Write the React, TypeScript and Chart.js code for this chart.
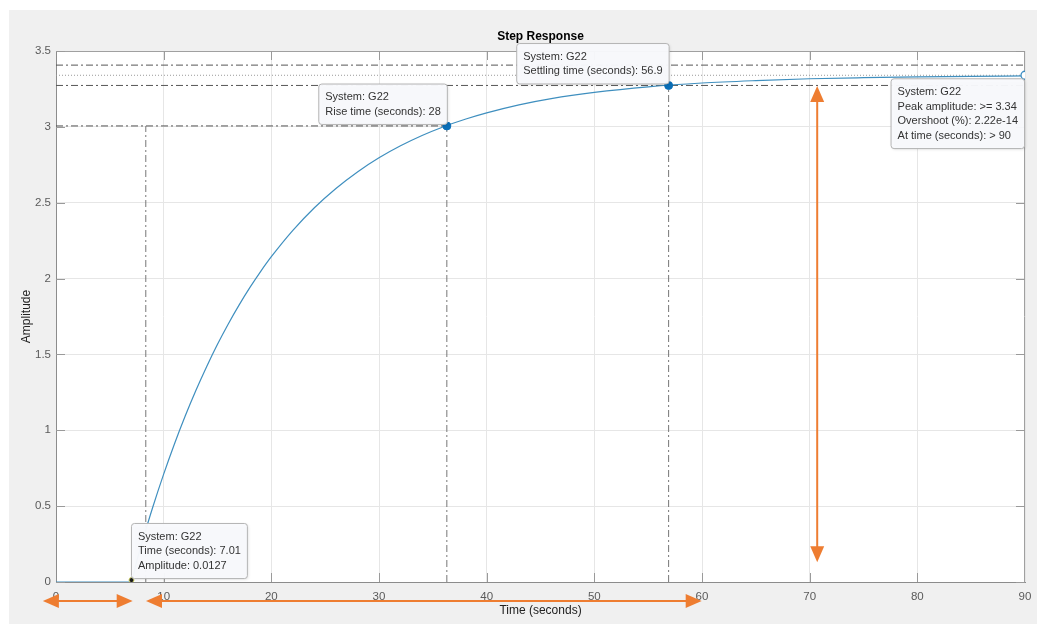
import React, { useEffect, useRef } from 'react';
import { Chart, registerables } from 'chart.js';

Chart.register(...registerables);

const FONT = '"Liberation Sans", Arial, Helvetica, sans-serif';

// Step response of system G22
const timeValues = [
  0, 6.96, 7.5, 8, 9, 10, 11, 12, 13, 14, 15, 16, 17, 18, 19, 20, 22, 24, 26, 28, 30,
  32, 34, 36, 38, 40, 43, 46, 50, 55, 60, 65, 70, 75, 80, 85, 90,
];
const amplitudeValues = [
  0, 0, 0.139, 0.263, 0.496, 0.711, 0.91, 1.094, 1.264, 1.421, 1.567, 1.701, 1.825, 1.94,
  2.046, 2.144, 2.318, 2.467, 2.594, 2.703, 2.796, 2.875, 2.943, 3.001, 3.05, 3.092, 3.145,
  3.186, 3.227, 3.264, 3.289, 3.305, 3.317, 3.324, 3.329, 3.333, 3.336,
];

// Characteristic points (data tips)
const markerTimes = [7.01, 36.3, 56.9, 90];
const markerAmps = [0.0127, 3.006, 3.273, 3.34];
const tipTexts = [
  ['System: G22', 'Time (seconds): 7.01', 'Amplitude: 0.0127'],
  ['System: G22', 'Rise time (seconds): 28'],
  ['System: G22', 'Settling time (seconds): 56.9'],
  ['System: G22', 'Peak amplitude: >= 3.34', 'Overshoot (%): 2.22e-14', 'At time (seconds): > 90'],
];
const tipAnchors = ['bottomLeft', 'bottomRight', 'bottomRight', 'topRight'];

// Reference lines
const settleUpper = 3.407;
const steadyState = 3.34;
const settleLower = 3.273;
const riseUpper = 3.006;
const riseStartTime = 8.34;
const riseEndTime = 36.3;
const settleTime = 56.9;
const xMin = 0;
const xMax = 90;

// Orange annotation arrows
const hArrowFrom = [-1.22, 8.36];
const hArrowTo = [7.12, 59.97];
const vArrowTime = 70.7;
const vArrowFrom = 3.27;
const vArrowTo = 0.13;

const ORANGE = '#EE7D31';

function drawHead(ctx: CanvasRenderingContext2D, tx: number, ty: number, dx: number, dy: number) {
  const L = 16;
  const W = 7;
  const bx = tx - dx * L;
  const by = ty - dy * L;
  const px = -dy;
  const py = dx;
  ctx.beginPath();
  ctx.moveTo(tx, ty);
  ctx.lineTo(bx + px * W, by + py * W);
  ctx.lineTo(bx - px * W, by - py * W);
  ctx.closePath();
  ctx.fill();
}

function drawDoubleArrow(ctx: CanvasRenderingContext2D, x1: number, y1: number, x2: number, y2: number) {
  const len = Math.hypot(x2 - x1, y2 - y1);
  const dx = (x2 - x1) / len;
  const dy = (y2 - y1) / len;
  ctx.beginPath();
  ctx.moveTo(x1 + dx * 14, y1 + dy * 14);
  ctx.lineTo(x2 - dx * 14, y2 - dy * 14);
  ctx.stroke();
  drawHead(ctx, x2, y2, dx, dy);
  drawHead(ctx, x1, y1, -dx, -dy);
}

const bgPlugin = {
  id: 'figureBg',
  beforeDraw(chart: any) {
    const { ctx, width, height, chartArea: a } = chart;
    ctx.save();
    ctx.fillStyle = '#ffffff';
    ctx.fillRect(0, 0, width, height);
    ctx.fillStyle = '#f0f0f0';
    ctx.fillRect(9, 10, width - 9, height - 10);
    ctx.fillStyle = '#ffffff';
    ctx.fillRect(a.left, a.top, a.right - a.left, a.bottom - a.top);
    ctx.restore();
  },
};

const framePlugin = {
  id: 'frame',
  beforeDatasetsDraw(chart: any) {
    const { ctx, chartArea: a, scales } = chart;
    ctx.save();
    ctx.strokeStyle = '#a0a0a0';
    ctx.lineWidth = 1;
    ctx.beginPath();
    ctx.moveTo(a.left, a.top + 0.5);
    ctx.lineTo(a.right, a.top + 0.5);
    ctx.moveTo(a.right - 0.5, a.top);
    ctx.lineTo(a.right - 0.5, a.bottom);
    ctx.stroke();
    ctx.strokeStyle = '#9a9a9a';
    ctx.beginPath();
    for (const t of scales.x.ticks) {
      const px = Math.round(scales.x.getPixelForValue(t.value)) + 0.5;
      if (t.value === xMin || t.value === xMax) continue;
      ctx.moveTo(px, a.bottom);
      ctx.lineTo(px, a.bottom - 9);
      ctx.moveTo(px, a.top);
      ctx.lineTo(px, a.top + 9);
    }
    for (const t of scales.y.ticks) {
      const py = Math.round(scales.y.getPixelForValue(t.value)) + 0.5;
      ctx.moveTo(a.left, py);
      ctx.lineTo(a.left + 9, py);
      ctx.moveTo(a.right, py);
      ctx.lineTo(a.right - 9, py);
    }
    ctx.stroke();
    ctx.restore();
  },
};

const tipsPlugin = {
  id: 'dataTips',
  afterDatasetsDraw(chart: any) {
    const { ctx, scales } = chart;
    ctx.save();
    ctx.font = `11px ${FONT}`;
    const lineH = 14.7;
    markerTimes.forEach((t, i) => {
      const mx = scales.x.getPixelForValue(t);
      const my = scales.y.getPixelForValue(markerAmps[i]);
      const lines = tipTexts[i];
      const w = Math.max(...lines.map((s) => ctx.measureText(s).width)) + 13;
      const h = lines.length * lineH + 11;
      let left = mx;
      let top = my - 2 - h;
      const anchor = tipAnchors[i];
      if (anchor === 'bottomLeft') {
        left = mx - 0.5;
        top = my - 2 - h;
      } else if (anchor === 'bottomRight') {
        left = mx - w;
        top = my - 2 - h;
      } else if (anchor === 'topRight') {
        left = mx - 1 - w;
        top = my + 3;
      }
      ctx.shadowColor = 'rgba(0,0,0,0.12)';
      ctx.shadowBlur = 3;
      ctx.shadowOffsetX = 1;
      ctx.shadowOffsetY = 1;
      ctx.fillStyle = 'rgba(248,249,252,0.97)';
      ctx.beginPath();
      (ctx as any).roundRect(left + 0.5, top + 0.5, w, h, 3);
      ctx.fill();
      ctx.shadowColor = 'transparent';
      ctx.strokeStyle = '#b4b4b4';
      ctx.lineWidth = 1;
      ctx.stroke();
      ctx.fillStyle = '#333333';
      ctx.textBaseline = 'middle';
      ctx.textAlign = 'left';
      lines.forEach((s, k) => {
        ctx.fillText(s, left + 7, top + 13.5 + k * lineH);
      });
    });
    ctx.restore();
  },
};

const arrowsPlugin = {
  id: 'arrows',
  afterDraw(chart: any) {
    const { ctx, scales, chartArea: a } = chart;
    ctx.save();
    ctx.strokeStyle = ORANGE;
    ctx.fillStyle = ORANGE;
    ctx.lineWidth = 2;
    const yRow = a.bottom + 19;
    hArrowFrom.forEach((x1, i) => {
      drawDoubleArrow(ctx, scales.x.getPixelForValue(x1), yRow, scales.x.getPixelForValue(hArrowTo[i]), yRow);
    });
    const vx = scales.x.getPixelForValue(vArrowTime);
    drawDoubleArrow(ctx, vx, scales.y.getPixelForValue(vArrowFrom), vx, scales.y.getPixelForValue(vArrowTo));
    ctx.restore();
  },
};

const DASH_DOT = [7, 3, 2, 3];

function refLine(points: { x: number; y: number }[], color: string, dash: number[]) {
  return {
    type: 'line' as const,
    data: points,
    borderColor: color,
    borderWidth: 1,
    borderDash: dash,
    pointRadius: 0,
    fill: false,
    order: 3,
  };
}

export default function App() {
  const canvasRef = useRef<HTMLCanvasElement | null>(null);

  useEffect(() => {
    const canvas = canvasRef.current;
    if (!canvas) return;
    const curve = timeValues.map((t, i) => ({ x: t, y: amplitudeValues[i] }));
    const markers = markerTimes.map((t, i) => ({ x: t, y: markerAmps[i] }));

    const chart = new Chart(canvas, {
      type: 'line',
      data: {
        datasets: [
          {
            data: markers,
            showLine: false,
            pointRadius: [2.5, 4, 4, 4],
            pointBackgroundColor: ['#1a1a1a', '#0a6fb8', '#0a6fb8', '#ffffff'],
            pointBorderColor: ['#d4d870', '#0a6fb8', '#0a6fb8', '#3a8cc2'],
            pointBorderWidth: [1, 1, 1, 1.3],
            order: 0,
          } as any,
          {
            data: curve,
            borderColor: '#3f8fbf',
            borderWidth: 1.2,
            pointRadius: 0,
            cubicInterpolationMode: 'monotone',
            fill: false,
            order: 1,
          } as any,
          refLine([{ x: xMin, y: settleUpper }, { x: xMax, y: settleUpper }], '#555555', DASH_DOT),
          refLine([{ x: xMin, y: steadyState }, { x: xMax, y: steadyState }], '#9a9a9a', [1, 2]),
          refLine([{ x: xMin, y: settleLower }, { x: xMax, y: settleLower }], '#555555', DASH_DOT),
          refLine([{ x: xMin, y: riseUpper }, { x: riseEndTime, y: riseUpper }], '#555555', DASH_DOT),
          refLine([{ x: riseStartTime, y: 0 }, { x: riseStartTime, y: riseUpper }], '#777777', DASH_DOT),
          refLine([{ x: riseEndTime, y: 0 }, { x: riseEndTime, y: riseUpper }], '#777777', DASH_DOT),
          refLine([{ x: settleTime, y: 0 }, { x: settleTime, y: settleLower }], '#777777', DASH_DOT),
        ],
      },
      options: {
        responsive: false,
        animation: false,
        events: [],
        layout: { padding: { top: 0, right: 12, bottom: 0, left: 0 } },
        plugins: {
          legend: { display: false },
          tooltip: { enabled: false },
          title: {
            display: true,
            text: 'Step Response',
            fullSize: false,
            color: '#000000',
            font: { family: FONT, size: 12, weight: 'bold' },
            padding: { top: 29.8, bottom: 6.8 },
          },
        },
        scales: {
          x: {
            type: 'linear',
            min: xMin,
            max: xMax,
            afterFit: (s: any) => {
              s.height = 42;
              s.paddingRight = 0;
              s.paddingLeft = 0;
            },
            ticks: {
              stepSize: 10,
              color: '#5a5a5a',
              font: { family: FONT, size: 11.5 },
              padding: 8,
              maxRotation: 0,
            },
            grid: { color: '#e6e6e6', drawTicks: false, lineWidth: 1 },
            border: { color: '#8c8c8c', width: 1 },
            title: {
              display: true,
              text: 'Time (seconds)',
              color: '#222222',
              font: { family: FONT, size: 12 },
              padding: { top: 0, bottom: 5.8 },
            },
          },
          y: {
            type: 'linear',
            min: 0,
            max: 3.5,
            afterFit: (s: any) => {
              s.width = 56;
            },
            ticks: {
              stepSize: 0.5,
              color: '#5a5a5a',
              font: { family: FONT, size: 11.5 },
              padding: 5,
              callback: (v: any) => String(Number(v)),
            },
            grid: { color: '#e6e6e6', drawTicks: false, lineWidth: 1 },
            border: { color: '#8c8c8c', width: 1 },
            title: {
              display: true,
              text: 'Amplitude',
              color: '#222222',
              font: { family: FONT, size: 12 },
              padding: { top: 19.8, bottom: 0 },
            },
          },
        },
      } as any,
      plugins: [bgPlugin, framePlugin, tipsPlugin, arrowsPlugin],
    });

    return () => {
      chart.destroy();
    };
  }, []);

  return (
    <div style={{ position: 'fixed', left: 0, top: 0, width: 1037, height: 624 }}>
      <canvas ref={canvasRef} width={1037} height={624} style={{ display: 'block' }} />
    </div>
  );
}
